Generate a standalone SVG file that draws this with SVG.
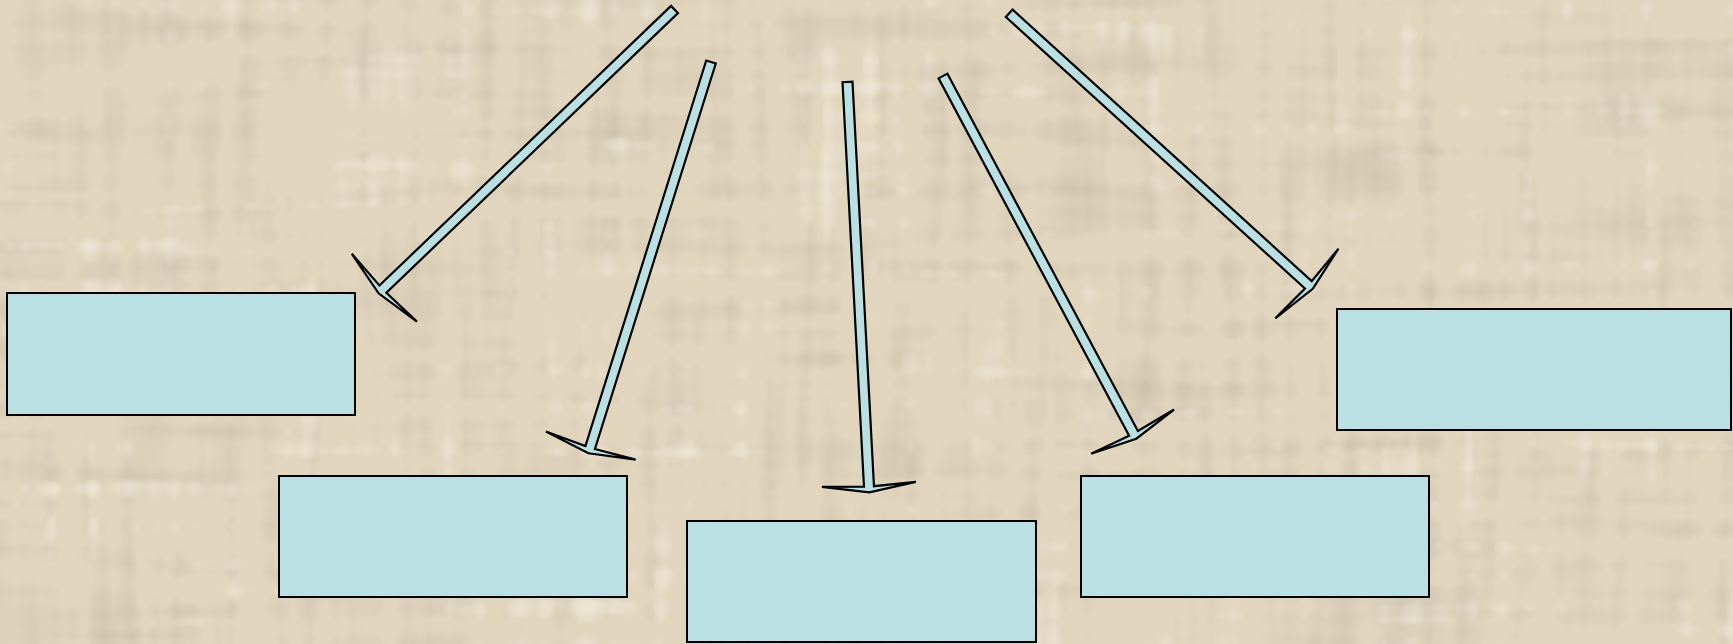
<svg xmlns="http://www.w3.org/2000/svg" width="1733" height="644" viewBox="0 0 1733 644">
  <style>
    .box { fill: #bae0e3; stroke: #000; stroke-width: 2; }
    .arrow { fill: #bae0e3; stroke: #000; stroke-width: 2.2; stroke-linejoin: miter; }
  </style>
  <defs>
    <filter id="tex" x="0" y="0" width="1733" height="644" filterUnits="userSpaceOnUse">
      <feFlood flood-color="#e1d5be" result="base"/>
      <feTurbulence type="fractalNoise" baseFrequency="0.004 0.05" numOctaves="2" seed="3" result="h"/>
      <feTurbulence type="fractalNoise" baseFrequency="0.05 0.004" numOctaves="2" seed="9" result="v"/>
      <feComposite in="h" in2="v" operator="arithmetic" k2="0.5" k3="0.5" result="n0"/>
      <feGaussianBlur in="n0" stdDeviation="2.5" result="n"/>
      <feColorMatrix in="n" type="matrix" values="0 0 0 0 0.58  0 0 0 0 0.51  0 0 0 0 0.39  2.6 0 0 0 -1.25" result="dark"/>
      <feColorMatrix in="n" type="matrix" values="0 0 0 0 0.96  0 0 0 0 0.92  0 0 0 0 0.84  0 -2.4 0 0 1.0" result="light"/>
      <feMerge>
        <feMergeNode in="base"/>
        <feMergeNode in="dark"/>
        <feMergeNode in="light"/>
      </feMerge>
    </filter>
  </defs>
  <rect id="background" x="0" y="0" width="1733" height="644" fill="#e1d5be" filter="url(#tex)"/>

  <g id="connectors">
    <path class="arrow" transform="translate(674.5,9.5) rotate(136.2)" d="M0,-5 H404 L402,-47 L410,0 L402,47 L404,5 H0 Z"/>
    <path class="arrow" transform="translate(711,62) rotate(107.4)" d="M0,-5 H404 L402,-47 L410,0 L402,47 L404,5 H0 Z"/>
    <path class="arrow" transform="translate(847.5,82) rotate(86.96)" d="M0,-5 H405 L403,-47 L411,0 L403,47 L405,5 H0 Z"/>
    <path class="arrow" transform="translate(943,76) rotate(61.94)" d="M0,-5 H405 L403,-47 L411,0 L403,47 L405,5 H0 Z"/>
    <path class="arrow" transform="translate(1009.2,13.3) rotate(42.23)" d="M0,-5 H404 L402,-47 L410,0 L402,47 L404,5 H0 Z"/>
  </g>

  <g id="node1"><rect class="box" x="7" y="293" width="348" height="122"/></g>
  <g id="node2"><rect class="box" x="279" y="476" width="348" height="121"/></g>
  <g id="node3"><rect class="box" x="687" y="521" width="349" height="121"/></g>
  <g id="node4"><rect class="box" x="1081" y="476" width="348" height="121"/></g>
  <g id="node5"><rect class="box" x="1337" y="309" width="394" height="121"/></g>
</svg>
